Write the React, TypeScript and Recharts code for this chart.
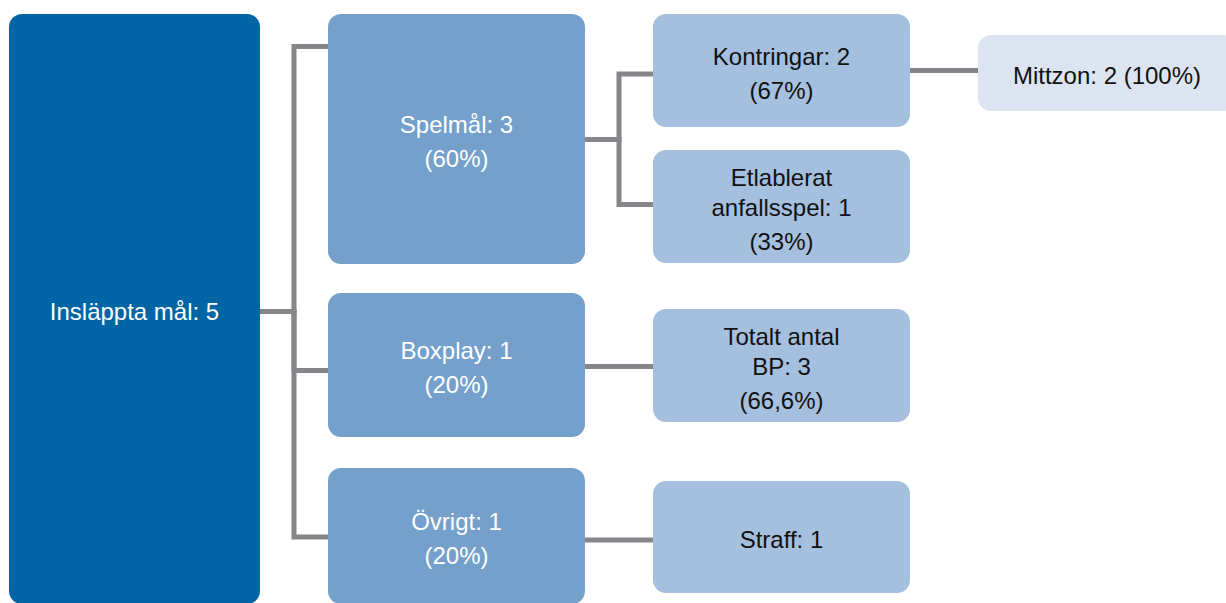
import { ScatterChart, Scatter, XAxis, YAxis, ReferenceArea } from 'recharts';

// Tree of goals conceded, one entry per box
const nodeNames = [
  'Insläppta mål',
  'Spelmål',
  'Boxplay',
  'Övrigt',
  'Kontringar',
  'Etlablerat\nanfallsspel',
  'Totalt antal\nBP',
  'Straff',
  'Mittzon',
];
const nodeCounts = [5, 3, 1, 1, 2, 1, 3, 1, 2];
const nodeShares = [null, '60%', '20%', '20%', '67%', '33%', '66,6%', null, '100%'];
const nodeParents = [-1, 0, 0, 0, 1, 1, 2, 3, 4];
const inlineShare = [false, false, false, false, false, false, false, false, true];

// layout in axis units (domain matches the canvas)
const W = 1226;
const H = 603;
const boxes = [
  [9, 260, 14, 604],
  [328, 585, 14, 264],
  [328, 585, 293, 437],
  [328, 585, 468, 604],
  [653, 910, 14, 127],
  [653, 910, 150, 263],
  [653, 910, 309, 422],
  [653, 910, 481, 593],
  [978, 1236, 35, 111],
];
const entryY = [0, 46.5, 370.5, 537, 74, 204.5, 366.5, 540, 70.5];
const exitY = [311.5, 139.5, 366.5, 540, 70.5, 0, 0, 0, 0];

const levelFill = ['#0065A5', '#74A0CB', '#A5BFDE', '#DCE4F1'];
const levelText = ['#ffffff', '#ffffff', '#111111', '#111111'];
const FONT = "'Liberation Sans', Arial, sans-serif";

const depth = (i: number): number => (nodeParents[i] < 0 ? 0 : depth(nodeParents[i]) + 1);

const labelLines = (i: number) => {
  const head = `${nodeNames[i]}: ${nodeCounts[i]}`.split('\n');
  const share = nodeShares[i];
  if (!share) return { head, tail: null as string | null };
  if (inlineShare[i]) {
    head[head.length - 1] += ` (${share})`;
    return { head, tail: null as string | null };
  }
  return { head, tail: `(${share})` };
};

const connectors = nodeParents
  .map((p, c) => {
    if (p < 0) return null;
    const px = boxes[p][1];
    const cx = boxes[c][0];
    const mid = (px + cx) / 2;
    return [
      { x: px, y: exitY[p] },
      { x: mid, y: exitY[p] },
      { x: mid, y: entryY[c] },
      { x: cx, y: entryY[c] },
    ];
  })
  .filter((d): d is { x: number; y: number }[] => d !== null);

const NodeBox = (i: number) => (props: any) => {
  const { x, y, width, height } = props;
  const lvl = depth(i);
  const { head, tail } = labelLines(i);
  const lineH = 30;
  const tailGap = 34;
  const blockH = (head.length - 1) * lineH + (tail ? tailGap : 0);
  const cx = x + width / 2;
  const cy = y + height / 2 + 2;
  const startY = cy - blockH / 2;
  return (
    <g>
      <rect x={x} y={y} width={width} height={height} rx={13} ry={13} fill={levelFill[lvl]} />
      <text
        textAnchor="middle"
        fill={levelText[lvl]}
        fontFamily={FONT}
        fontSize={24}
        dominantBaseline="central"
      >
        {head.map((t, k) => (
          <tspan key={k} x={cx} y={startY + k * lineH}>
            {t}
          </tspan>
        ))}
        {tail && (
          <tspan x={cx} y={startY + (head.length - 1) * lineH + tailGap}>
            {tail}
          </tspan>
        )}
      </text>
    </g>
  );
};

export default function App() {
  return (
    <div style={{ position: 'absolute', left: 0, top: 0, background: '#fff' }}>
      <ScatterChart width={W} height={H} margin={{ top: 0, right: 0, bottom: 0, left: 0 }}>
        <XAxis type="number" dataKey="x" domain={[0, W]} allowDataOverflow hide />
        <YAxis type="number" dataKey="y" domain={[0, H]} allowDataOverflow reversed hide />
        {connectors.map((pts, k) => (
          <Scatter
            key={`c${k}`}
            data={pts}
            line={{ stroke: '#85868A', strokeWidth: 5 }}
            shape={() => <g />}
            isAnimationActive={false}
          />
        ))}
        {boxes.map((b, i) => (
          <ReferenceArea
            key={`n${i}`}
            x1={b[0]}
            x2={b[1]}
            y1={b[2]}
            y2={b[3]}
            ifOverflow="visible"
            shape={NodeBox(i)}
          />
        ))}
      </ScatterChart>
    </div>
  );
}
